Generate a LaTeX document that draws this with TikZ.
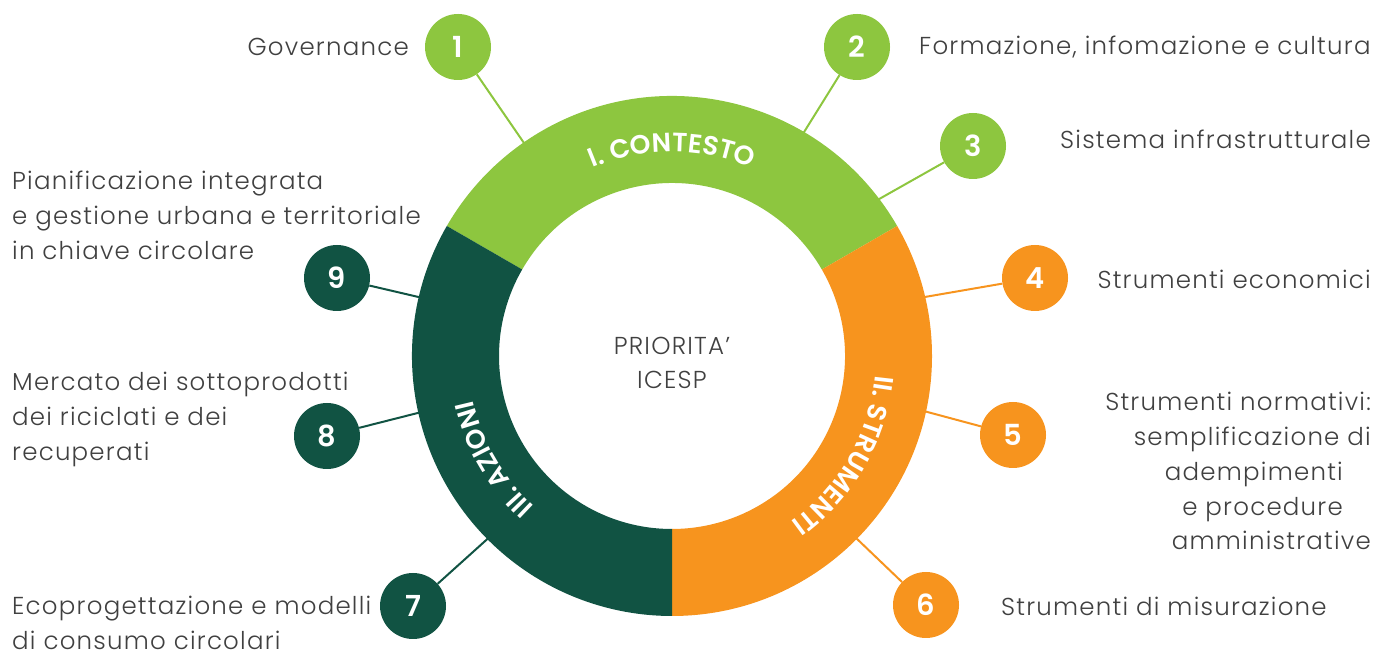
\documentclass[tikz,border=0pt]{standalone}
\usepackage{fontspec}
\setmainfont{Poppins}[UprightFont=* Light,BoldFont=* SemiBold]
\newfontfamily\lblfont{Poppins}[UprightFont=* Light,LetterSpace=5]
\usetikzlibrary{calc,decorations.text}
\definecolor{cgreen}{HTML}{8DC63F}
\definecolor{corange}{HTML}{F7941E}
\definecolor{cdark}{HTML}{115343}
\definecolor{ctext}{HTML}{404040}
\tikzset{
  num/.style={circle,fill=#1,minimum size=66pt,inner sep=0pt,text=white,font=\bfseries\fontsize{29}{29}\selectfont},
  link/.style={draw=#1,line width=2pt},
  lbl/.style={text=ctext,font=\lblfont\fontsize{24.5}{34.8}\selectfont,inner sep=0pt},
  ringtext/.style={decorate,decoration={text along path,text align=center,text color=white,
     text={|\bfseries\fontsize{26.5}{26.5}\selectfont|#1}}}
}
\begin{document}
\begin{tikzpicture}[x=1pt,y=1pt]
\useasboundingbox (0,0) rectangle (1375,652);
\coordinate (C) at (672,296);
% number circles
\node[num=cgreen] (n1) at (458,605) {1};
\node[num=cgreen] (n2) at (857,605) {2};
\node[num=cgreen] (n3) at (973,506) {3};
\node[num=corange] (n4) at (1035,374) {4};
\node[num=corange] (n5) at (1013,217) {5};
\node[num=corange] (n6) at (926,47) {6};
\node[num=cdark] (n7) at (413,46) {7};
\node[num=cdark] (n8) at (327,216) {8};
\node[num=cdark] (n9) at (337,374) {9};
% ring anchor points
\coordinate (a1) at ($(C)+(124.8:255)$);
\coordinate (a2) at ($(C)+(59.5:255)$);
\coordinate (a3) at ($(C)+(37.3:255)$);
\coordinate (a4) at ($(C)+(13.2:255)$);
\coordinate (a5) at ($(C)+(-12.3:255)$);
\coordinate (a6) at ($(C)+(-44.7:255)$);
\coordinate (a7) at ($(C)+(224.8:255)$);
\coordinate (a8) at ($(C)+(192.6:255)$);
\coordinate (a9) at ($(C)+(166.9:255)$);
% connectors
\draw[link=cgreen] (a1) -- (n1);
\draw[link=cgreen] (a2) -- (n2);
\draw[link=cgreen] (a3) -- (n3);
\draw[link=corange] (a4) -- (n4);
\draw[link=corange] (a5) -- (n5);
\draw[link=corange] (a6) -- (n6);
\draw[link=cdark] (a7) -- (n7);
\draw[link=cdark] (a8) -- (n8);
\draw[link=cdark] (a9) -- (n9);
% ring
\fill[cgreen] ($(C)+(30:260)$) arc[start angle=30,end angle=150,radius=260]
  -- ($(C)+(150:173)$) arc[start angle=150,end angle=30,radius=173] -- cycle;
\fill[corange] ($(C)+(-90:260)$) arc[start angle=-90,end angle=30,radius=260]
  -- ($(C)+(30:173)$) arc[start angle=30,end angle=-90,radius=173] -- cycle;
\fill[cdark] ($(C)+(150:260)$) arc[start angle=150,end angle=270,radius=260]
  -- ($(C)+(270:173)$) arc[start angle=270,end angle=150,radius=173] -- cycle;
% ring texts
\path[ringtext={I. CONTESTO}] ($(C)+(150:204)$) arc[start angle=150,end angle=30,radius=204];
\path[ringtext={II. STRUMENTI}] ($(C)+(30:204)$) arc[start angle=30,end angle=-90,radius=204];
\path[ringtext={III. AZIONI}] ($(C)+(270:204)$) arc[start angle=270,end angle=150,radius=204];
% centre
\node[lbl,align=center] (ctr) at (C) [yshift=-7pt] {PRIORITA’\\ICESP};
% labels
\node[lbl,anchor=east] (t1) at (409,605) {Governance};
\node[lbl,anchor=west] (t2) at (919,605) {Formazione, infomazione e cultura};
\node[lbl,anchor=east] (t3) at (1371,513) {Sistema infrastrutturale};
\node[lbl,anchor=east] (t4) at (1371,373) {Strumenti economici};
\node[lbl,anchor=north east,align=right] (t5) at (1371,260) {Strumenti normativi:\\semplificazione di\\adempimenti\rule{28pt}{0pt}\\e procedure\rule{28pt}{0pt}\\amministrative};
\node[lbl,anchor=west] (t6) at (1001,46) {Strumenti di misurazione};
\node[lbl,anchor=north west,align=left] (t7) at (12,56) {Ecoprogettazione e modelli\\di consumo circolari};
\node[lbl,anchor=north west,align=left] (t8) at (12,280) {Mercato dei sottoprodotti\\dei riciclati e dei\\recuperati};
\node[lbl,anchor=north west,align=left] (t9) at (12,481) {Pianificazione integrata\\e gestione urbana e territoriale\\in chiave circolare};
\end{tikzpicture}
\end{document}
